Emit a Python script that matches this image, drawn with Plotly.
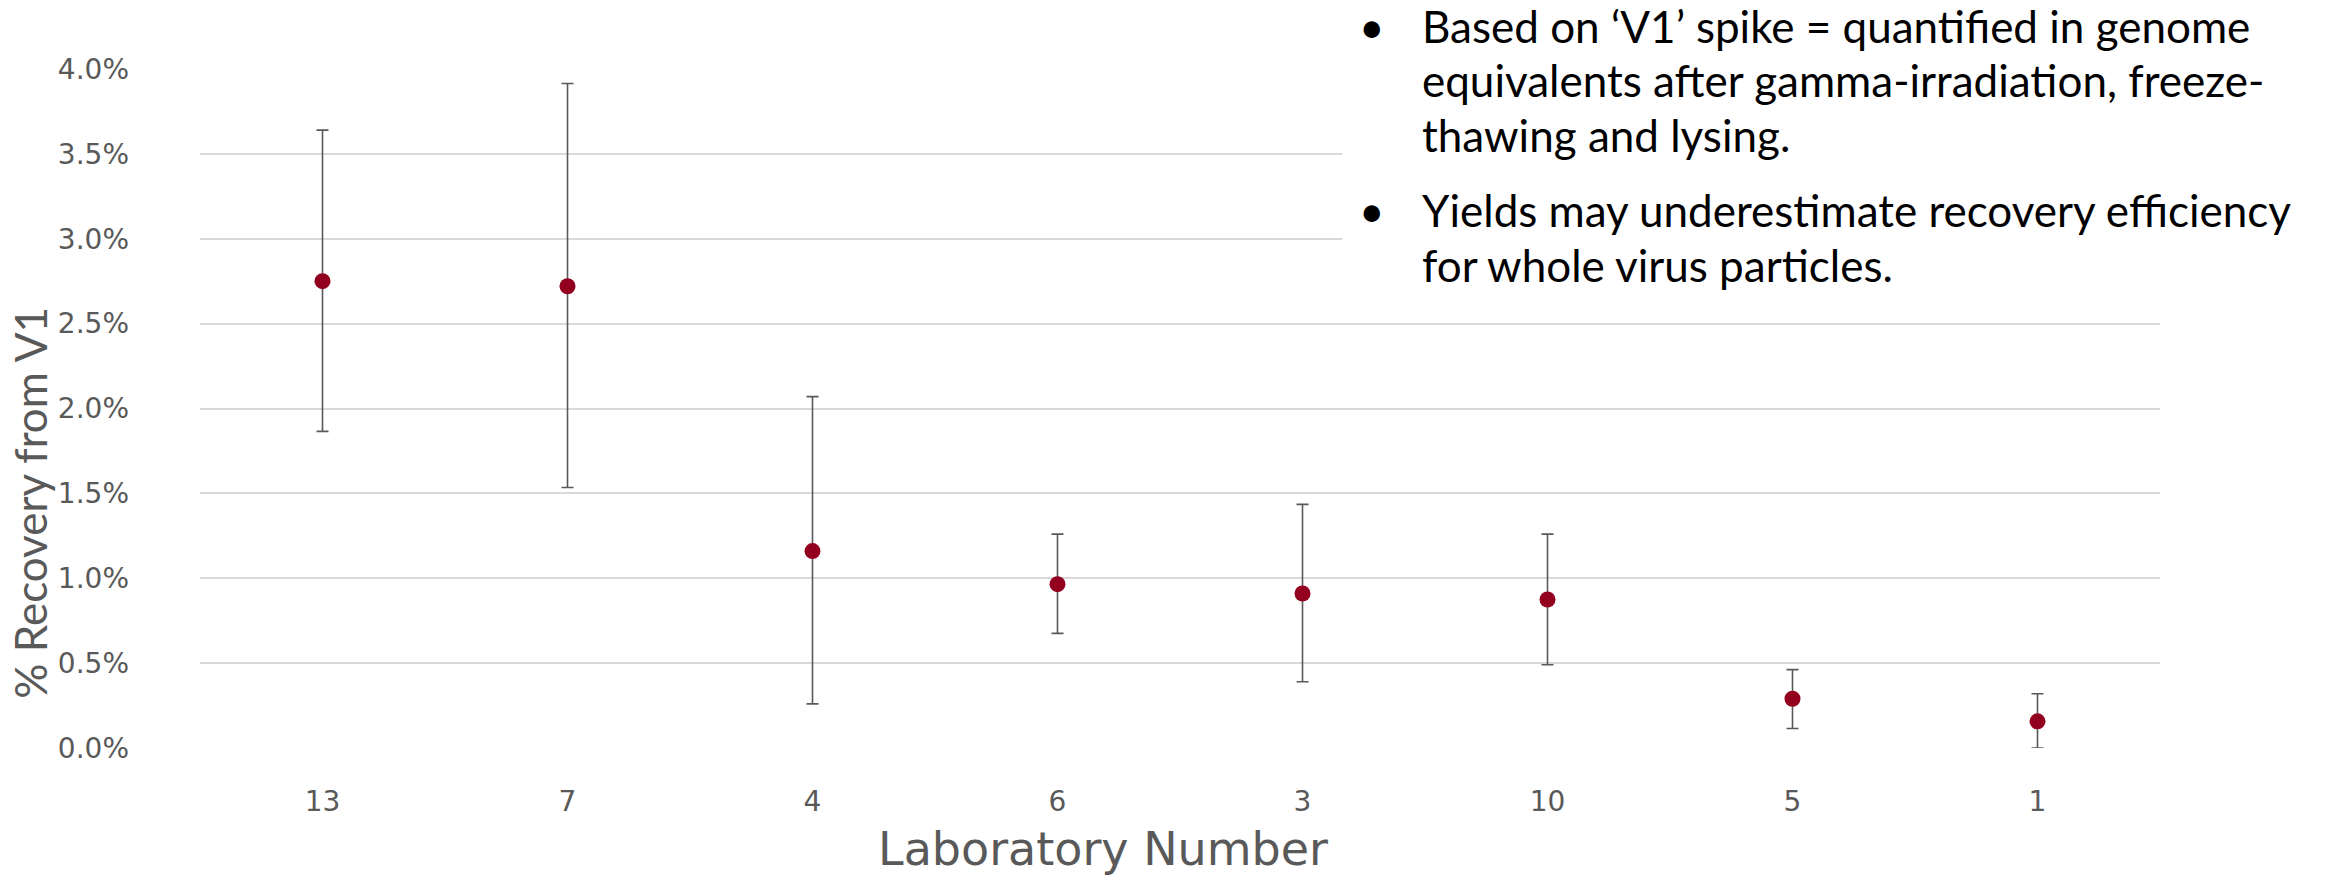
import plotly.graph_objects as go

labs = ["13", "7", "4", "6", "3", "10", "5", "1"]
mean_pct = [2.75, 2.72, 1.16, 0.965, 0.91, 0.875, 0.29, 0.157]
upper_pct = [3.64, 3.915, 2.07, 1.26, 1.435, 1.26, 0.462, 0.32]
lower_pct = [1.865, 1.535, 0.26, 0.675, 0.39, 0.49, 0.115, 0.0]
y_ticks = [0, 0.5, 1.0, 1.5, 2.0, 2.5, 3.0, 3.5, 4.0]

bullet1 = ["Based on \u2018V1\u2019 spike = quantified in genome",
           "equivalents after gamma-irradiation, freeze-",
           "thawing and lysing."]
bullet2 = ["Yields may underestimate recovery efficiency",
           "for whole virus particles."]

W, H = 2325, 881
L, R, T, B = 199.5, 165, 68.5, 133
pw, ph = W - L - R, H - T - B

def px(x):
    return (x - L) / pw

def py(y):
    return (H - B - y) / ph

plus = [u - m for u, m in zip(upper_pct, mean_pct)]
minus = [m - l for m, l in zip(mean_pct, lower_pct)]

fig = go.Figure()
fig.add_trace(go.Scatter(
    x=labs, y=mean_pct, mode="markers",
    marker=dict(color="#93001f", size=16),
    error_y=dict(type="data", symmetric=False, array=plus, arrayminus=minus,
                 color="#595959", thickness=1.6, width=6),
    showlegend=False, cliponaxis=False,
))

tick_font = dict(family="DejaVu Sans", size=28, color="#595959")
fig.update_layout(
    width=W, height=H,
    margin=dict(l=L, r=R, t=T, b=B, autoexpand=False),
    paper_bgcolor="white", plot_bgcolor="white",
    xaxis=dict(type="category", categoryorder="array", categoryarray=labs,
               range=[-0.5, len(labs) - 0.5],
               showgrid=False, zeroline=False, showline=False, ticks="",
               tickfont=tick_font, ticklabelstandoff=34),
    yaxis=dict(range=[0, 4.0], tickvals=y_ticks,
               ticktext=[f"{v:.1f}%" for v in y_ticks],
               showgrid=True, gridcolor="#d9d9d9", gridwidth=2,
               zeroline=False, showline=False, ticks="",
               tickfont=tick_font, ticklabelstandoff=70),
)

title_font = dict(family="DejaVu Sans", size=46, color="#595959")
fig.add_annotation(text="Laboratory Number", xref="paper", yref="paper",
                   x=px(1103), y=py(849), xanchor="center", yanchor="middle",
                   showarrow=False, font=title_font)
fig.add_annotation(text="% Recovery from V1", xref="paper", yref="paper",
                   x=px(30), y=py(503), xanchor="center", yanchor="middle",
                   textangle=-90, showarrow=False,
                   font=dict(family="Lato", size=44, color="#595959"))

fig.add_shape(type="rect", xref="paper", yref="paper",
              x0=px(1342), x1=px(W + 5), y0=py(300), y1=py(-5),
              fillcolor="white", line=dict(width=0), layer="above")

text_font = dict(family="Lato", size=44, color="black")
lines = [(bullet1[0], 25, True), (bullet1[1], 80, False), (bullet1[2], 135, False),
         (bullet2[0], 210, True), (bullet2[1], 265, False)]
for txt, yc, has_bullet in lines:
    fig.add_annotation(text=txt, xref="paper", yref="paper", x=px(1420), y=py(yc),
                       xanchor="left", yanchor="middle", showarrow=False, font=text_font)
    if has_bullet:
        fig.add_annotation(text="\u2022", xref="paper", yref="paper", x=px(1372), y=py(yc),
                           xanchor="center", yanchor="middle", showarrow=False, font=text_font)

fig.write_html("out.html")
